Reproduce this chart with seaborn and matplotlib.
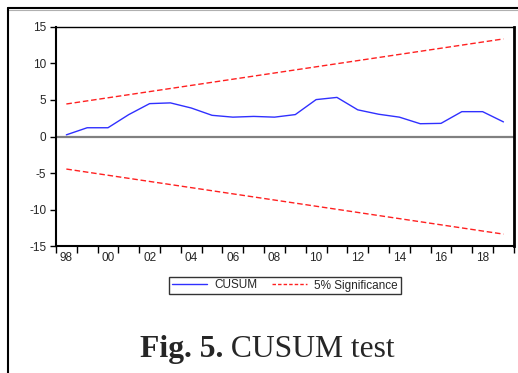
import numpy as np
import pandas as pd
import matplotlib.pyplot as plt
import seaborn as sns
from matplotlib.lines import Line2D

# datos
years = [1998, 1999, 2000, 2001, 2002, 2003, 2004, 2005, 2006, 2007, 2008,
         2009, 2010, 2011, 2012, 2013, 2014, 2015, 2016, 2017, 2018, 2019]
cusum = [0.23, 1.2, 1.2, 3.0, 4.5, 4.6, 3.9, 2.9, 2.65, 2.75, 2.65,
         3.0, 5.05, 5.35, 3.65, 3.05, 2.65, 1.75, 1.8, 3.4, 3.4, 2.0]
band_years = [1998, 2019]
upper = [4.45, 13.35]
lower = [-4.45, -13.35]
tick_labels = ["98", "00", "02", "04", "06", "08", "10", "12", "14", "16", "18"]

sns.set_style("white")
plt.rcParams['font.family'] = ['Liberation Sans', 'DejaVu Sans']
plt.rcParams['axes.unicode_minus'] = False

df = pd.DataFrame({'year': np.array(years) + 0.5, 'CUSUM': cusum})
df_band = pd.DataFrame({'year': np.array(band_years) + 0.5, 'upper': upper, 'lower': lower})

fig = plt.figure(figsize=(5.18, 3.73), dpi=100)
ax = fig.add_axes([0.108, 0.340, 0.884, 0.588])

ax.axhline(0, color='#808080', lw=1.6, zorder=1)
sns.lineplot(data=df, x='year', y='CUSUM', ax=ax, color='#3030ff', lw=1.0, zorder=3)
sns.lineplot(data=df_band, x='year', y='upper', ax=ax, color='#ff2020', lw=1.0, zorder=2)
sns.lineplot(data=df_band, x='year', y='lower', ax=ax, color='#ff2020', lw=1.0, zorder=2)
for l in ax.lines[-2:]:
    l.set_dashes([4, 2])

ax.set_xlim(1998, 2020)
ax.set_ylim(-15, 15)
ax.set_yticks([-15, -10, -5, 0, 5, 10, 15])
ax.set_xticks(range(1998, 2021))
ax.set_xticklabels([])
ax.set_xticks([y + 0.5 for y in range(1998, 2019, 2)], minor=True)
ax.set_xticklabels(tick_labels, minor=True)
ax.tick_params(axis='x', which='major', direction='out', length=5, width=1, color='black', bottom=True)
ax.tick_params(axis='x', which='minor', length=0, labelsize=8.5, pad=4)
ax.tick_params(axis='y', direction='out', length=4, width=1, color='black', left=True, labelsize=8.5, pad=3)
ax.set_xlabel("")
ax.set_ylabel("")

for s in ['left', 'bottom']:
    ax.spines[s].set_linewidth(1.5)
    ax.spines[s].set_color('black')
ax.spines['top'].set_linewidth(1.0)
ax.spines['top'].set_color('black')
ax.spines['right'].set_linewidth(2.0)
ax.spines['right'].set_color('black')

handles = [Line2D([], [], color='#3030ff', lw=1.0),
           Line2D([], [], color='#ff2020', lw=1.0, dashes=[2.5, 1.5])]
leg = fig.legend(handles, ["CUSUM", "5% Significance"], loc='center',
                 bbox_to_anchor=(285 / 518, 1 - 285.5 / 373), ncol=2, fontsize=8.5,
                 frameon=True, fancybox=False, edgecolor='black', handlelength=3.0,
                 columnspacing=1.2, borderpad=0.25, handletextpad=0.6)
leg.get_frame().set_linewidth(1.0)

# marco exterior
fig.add_artist(Line2D([8 / 518, 1], [1 - 8 / 373, 1 - 8 / 373], color='black', lw=1.5,
                      transform=fig.transFigure))
fig.add_artist(Line2D([8 / 518, 1], [1 - 10 / 373, 1 - 10 / 373], color='#b0b0b0', lw=0.8,
                      transform=fig.transFigure))
fig.add_artist(Line2D([8 / 518, 8 / 518], [0, 1 - 8 / 373], color='black', lw=1.5,
                      transform=fig.transFigure))

# pie de figura: parte en negrita + parte normal
r = fig.canvas.get_renderer()
t1 = fig.text(0, 1 - 357 / 373, "Fig. 5.", fontsize=22.8, weight='bold',
              family='Liberation Serif', va='baseline')
t2 = fig.text(0, 1 - 357 / 373, " CUSUM test", fontsize=22.8,
              family='Liberation Serif', va='baseline')
w1 = t1.get_window_extent(r).width
w2 = t2.get_window_extent(r).width
x0 = 267 - (w1 + w2) / 2
t1.set_x(x0 / 518)
t2.set_x((x0 + w1) / 518)

fig.savefig("out.png", dpi=100)
